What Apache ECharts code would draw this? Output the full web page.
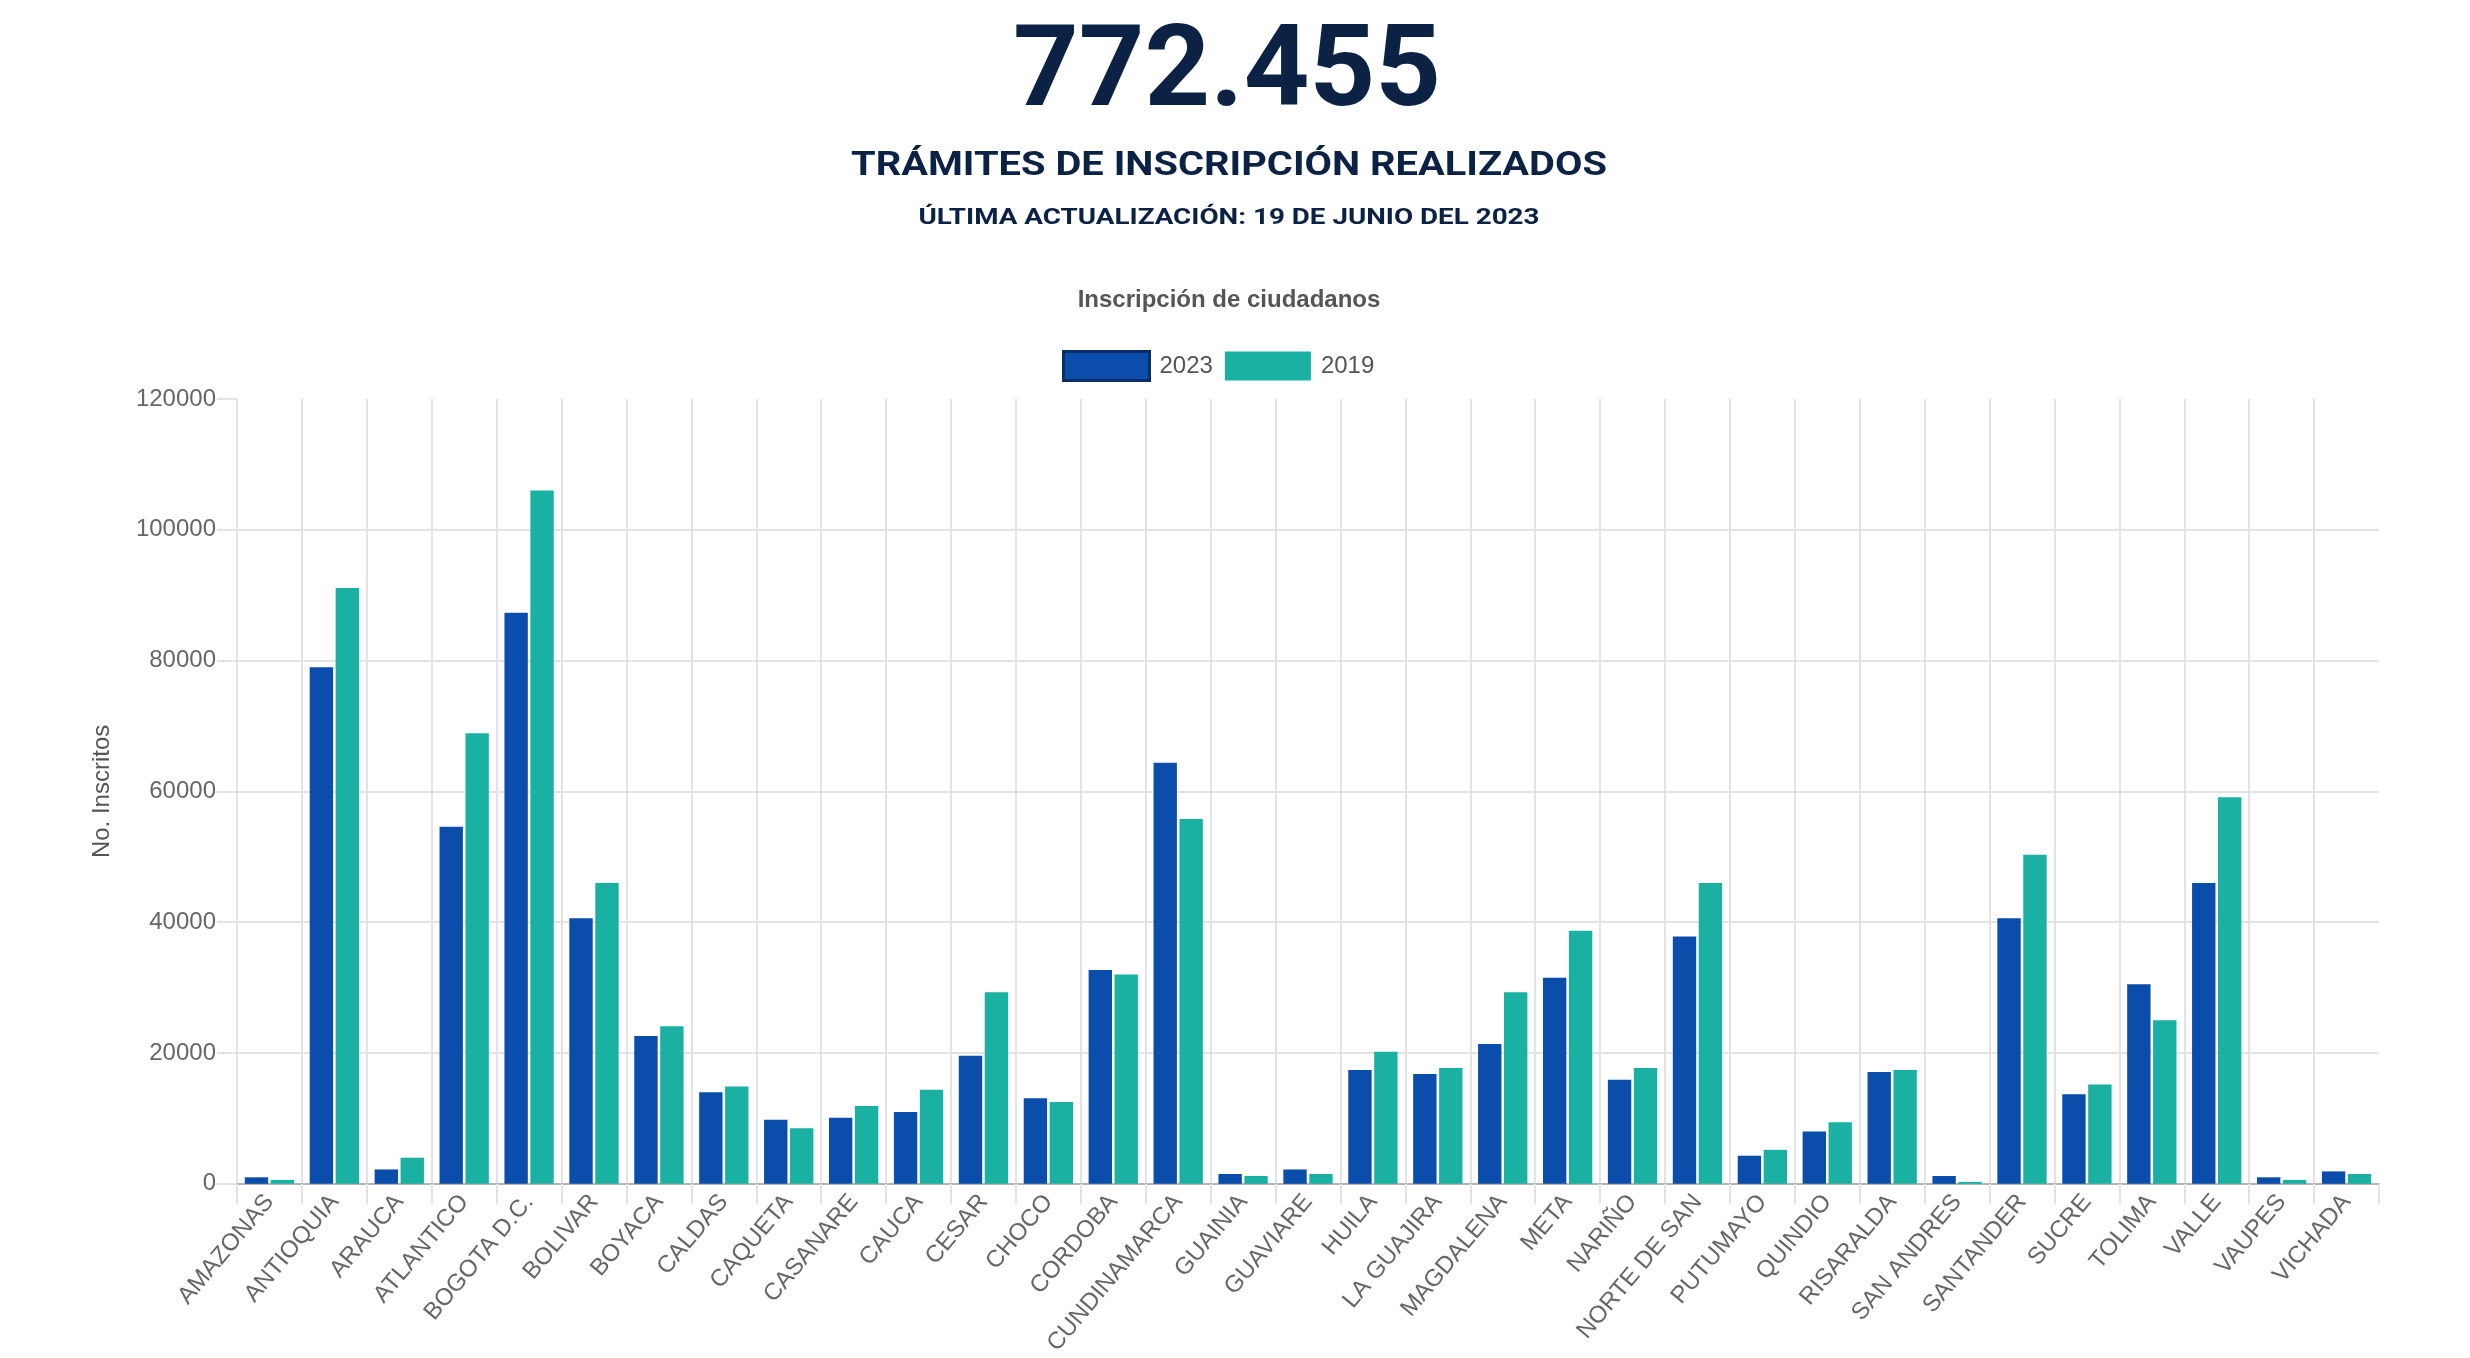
<!DOCTYPE html>
<html>
<head>
<meta charset="utf-8">
<script src="https://cdn.jsdelivr.net/npm/echarts@6/dist/echarts.min.js"></script>
<style>
html,body{margin:0;padding:0;background:#fff;}
#chart{width:2470px;height:1358px;}
</style>
</head>
<body>
<div id="chart"></div>
<script>
const categories = ["AMAZONAS","ANTIOQUIA","ARAUCA","ATLANTICO","BOGOTA D.C.","BOLIVAR","BOYACA","CALDAS","CAQUETA","CASANARE","CAUCA","CESAR","CHOCO","CORDOBA","CUNDINAMARCA","GUAINIA","GUAVIARE","HUILA","LA GUAJIRA","MAGDALENA","META","NARIÑO","NORTE DE SAN","PUTUMAYO","QUINDIO","RISARALDA","SAN ANDRES","SANTANDER","SUCRE","TOLIMA","VALLE","VAUPES","VICHADA"];
const values2023 = [1000,79000,2200,54600,87300,40600,22600,14000,9800,10100,11000,19600,13100,32700,64400,1500,2200,17400,16800,21400,31500,15900,37800,4300,8000,17100,1200,40600,13700,30500,46000,1000,1900];
const values2019 = [600,91100,4000,68900,106000,46000,24100,14900,8500,11900,14400,29300,12500,32000,55800,1200,1500,20200,17700,29300,38700,17700,46000,5200,9400,17400,300,50300,15200,25000,59100,600,1500];
const seriesNames = ["2023","2019"];
const totalText = "772.455";
const headline = "TRÁMITES DE INSCRIPCIÓN REALIZADOS";
const updated = "ÚLTIMA ACTUALIZACIÓN: 19 DE JUNIO DEL 2023";
const chartTitle = "Inscripción de ciudadanos";
const yAxisName = "No. Inscritos";
const yMin = 0, yMax = 120000, yInterval = 20000;

const measureCtx = document.createElement('canvas').getContext('2d');
function fitScale(text, font, target){
  measureCtx.font = font;
  const w = measureCtx.measureText(text).width;
  return w > 0 ? target / w : 1;
}
const navy = '#0b2245';
function header(text, size, cx, cy, targetW){
  const font = 'bold ' + size + 'px Roboto';
  return {
    type: 'text', x: cx, y: cy, scaleX: fitScale(text, font, targetW),
    style: { text: text, font: font, fill: navy, textAlign: 'center', textVerticalAlign: 'middle' }
  };
}

const chart = echarts.init(document.getElementById('chart'), null, {renderer: 'canvas'});
const gridColor = '#e3e3e3';
chart.setOption({
  animation: false,
  backgroundColor: '#fff',
  textStyle: { fontFamily: '"Liberation Sans", Arial, Helvetica, sans-serif' },
  graphic: [
    header(totalText, 114, 1227, 76, 428),
    header(headline, 34, 1229, 166, 756),
    header(updated, 22, 1229, 218, 621),
    {
      type: 'text', x: 1229, y: 300,
      style: { text: chartTitle, font: 'bold 24px "Liberation Sans", Arial, sans-serif', fill: '#555', textAlign: 'center', textVerticalAlign: 'middle' }
    }
  ],
  legend: {
    left: 1057, top: 345,
    itemWidth: 86, itemHeight: 29, itemGap: 12,
    icon: 'rect',
    textStyle: { fontSize: 24, color: '#555', padding: [0,0,0,5] },
    data: [
      { name: seriesNames[0], itemStyle: { borderColor: '#0a2d68', borderWidth: 3 } },
      { name: seriesNames[1] }
    ]
  },
  grid: { left: 237, right: 91, top: 399, bottom: 171, containLabel: false },
  xAxis: {
    type: 'category',
    data: categories,
    axisLine: { show: true, lineStyle: { color: '#b5b5b5', width: 2 } },
    axisTick: { show: true, length: 20, lineStyle: { color: gridColor, width: 2 } },
    splitLine: { show: true, showMaxLine: false, lineStyle: { color: gridColor, width: 2 } },
    axisLabel: { rotate: 50, fontSize: 24, color: '#666', margin: 14, interval: 0 }
  },
  yAxis: {
    type: 'value',
    min: yMin, max: yMax, interval: yInterval,
    name: yAxisName,
    nameLocation: 'middle', nameRotate: 90, nameGap: 123,
    nameTextStyle: { fontSize: 24, color: '#555' },
    axisLine: { show: true, lineStyle: { color: gridColor, width: 2 } },
    axisTick: { show: true, length: 20, lineStyle: { color: gridColor, width: 2 } },
    splitLine: { show: true, showMaxLine: false, lineStyle: { color: gridColor, width: 2 } },
    axisLabel: { fontSize: 24, color: '#666', margin: 21, formatter: function (v) { return String(v); } }
  },
  series: [
    { name: seriesNames[0], type: 'bar', data: values2023, barWidth: '36%', barGap: '11%',
      itemStyle: { color: '#0a4dab' } },
    { name: seriesNames[1], type: 'bar', data: values2019, barWidth: '36%', barGap: '11%',
      itemStyle: { color: '#1ab1a2' } }
  ]
});
</script>
</body>
</html>
